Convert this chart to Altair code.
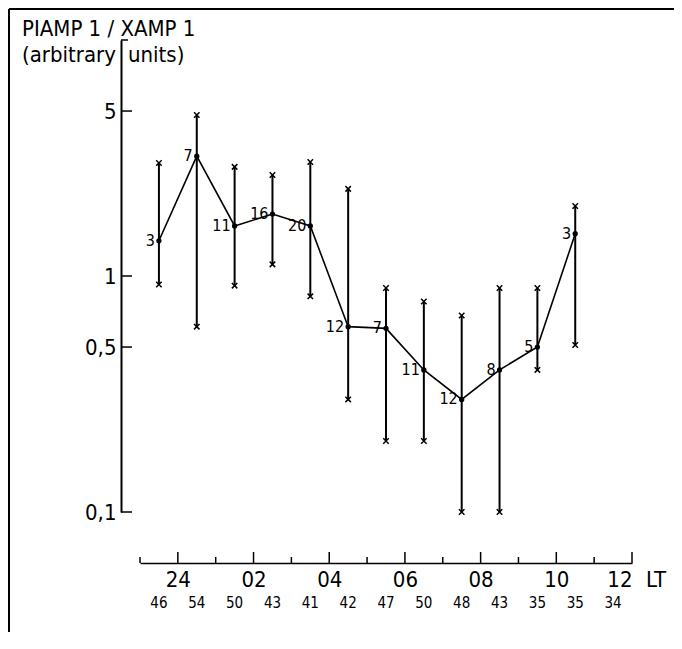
import altair as alt
import pandas as pd

# ---- data ----
hours = [23.5, 24.5, 25.5, 26.5, 27.5, 28.5, 29.5, 30.5, 31.5, 32.5, 33.5, 34.5]
ratio = [1.41, 3.22, 1.63, 1.83, 1.63, 0.61, 0.60, 0.40, 0.30, 0.40, 0.50, 1.51]
ratio_hi = [3.01, 4.81, 2.90, 2.68, 3.04, 2.34, 0.89, 0.78, 0.68, 0.89, 0.89, 1.98]
ratio_lo = [0.92, 0.61, 0.91, 1.12, 0.82, 0.30, 0.20, 0.20, 0.10, 0.10, 0.40, 0.51]
n_events = [3, 7, 11, 16, 20, 12, 7, 11, 12, 8, 5, 3]
count_hours = [23.5, 24.5, 25.5, 26.5, 27.5, 28.5, 29.5, 30.5, 31.5, 32.5, 33.5, 34.5, 35.5]
counts = [46, 54, 50, 43, 41, 42, 47, 50, 48, 43, 35, 35, 34]
x_major = [24, 26, 28, 30, 32, 34, 36]
x_major_labels = ["24", "02", "04", "06", "08", "10", "12"]
x_minor = [23, 25, 27, 29, 31, 33, 35]
y_ticks = [0.1, 0.5, 1, 5]
y_tick_labels = ["0,1", "0,5", "1", "5"]
y_top_tick = [10]

# label placement nudges (pixels) for the n labels
label_dy = [2, 0, 4, -7, 8, 2, 10, 8, 7, -1, -5, 0]

FONT = "DejaVu Sans Condensed, Liberation Sans Narrow, DejaVu Sans"
W, H = 492, 472
PAD = {"left": 132, "top": 32, "right": 42, "bottom": 120}

xscale = alt.Scale(domain=[23, 36], nice=False, zero=False)
yscale = alt.Scale(type="log", domain=[0.1, 10], nice=False)

df = pd.DataFrame({"h": hours, "v": ratio, "lo": ratio_lo, "hi": ratio_hi,
                   "n": [str(k) for k in n_events], "dy": label_dy})
caps = pd.DataFrame({"h": hours + hours, "v": ratio_lo + ratio_hi})
df_counts = pd.DataFrame({"h": count_hours, "c": [str(c) for c in counts]})
df_major = pd.DataFrame({"h": x_major})
df_minor = pd.DataFrame({"h": x_minor})
df_yt = pd.DataFrame({"v": y_ticks})
df_ytop = pd.DataFrame({"v": y_top_tick})
dummy = pd.DataFrame({"a": [0]})


def expr_map(values, labels):
    parts = []
    for v, l in zip(values, labels):
        parts.append(f"abs(datum.value - {v}) < 1e-6 ? '{l}' : ")
    return "".join(parts) + "''"


x_axis = alt.Axis(values=x_major, labelExpr=expr_map(x_major, x_major_labels),
                  ticks=False, domain=True, domainWidth=1.5, domainColor="black",
                  offset=51, labelPadding=6, labelFontSize=22, labelFont=FONT,
                  labelColor="black", grid=False, title=None)
y_axis = alt.Axis(values=y_ticks, labelExpr=expr_map(y_ticks, y_tick_labels),
                  ticks=False, domain=True, domainWidth=2, domainColor="black",
                  offset=19, labelPadding=5, labelFontSize=22, labelFont=FONT,
                  labelColor="black", grid=False, title=None)


def X(field):
    return alt.X(field, scale=xscale, axis=x_axis)


def Y(field):
    return alt.Y(field, scale=yscale, axis=y_axis)


base = alt.Chart(df)

errbars = base.mark_rule(color="black", strokeWidth=2).encode(
    x=X("h:Q"), y=Y("lo:Q"), y2="hi:Q",
)

cap_marks = alt.Chart(caps).mark_point(
    shape="M -1 -1 L 1 1 M -1 1 L 1 -1", filled=False, color="black",
    strokeWidth=1.5, size=30, opacity=1
).encode(x=X("h:Q"), y=Y("v:Q"))

line = base.mark_line(color="black", strokeWidth=1.6).encode(
    x=X("h:Q"), y=Y("v:Q"),
)

points = base.mark_point(filled=True, color="black", size=28, opacity=1).encode(
    x=X("h:Q"), y=Y("v:Q"),
)

nlabels = base.mark_text(align="right", baseline="middle", dx=-4, fontSize=16,
                         font=FONT, color="black").encode(
    x=X("h:Q"), y=Y("v:Q"),
    yOffset=alt.YOffset("dy:Q", scale=None),
    text="n:N",
)

# x-axis ticks pointing upward
major_ticks = alt.Chart(df_major).mark_rule(color="black", strokeWidth=1.5).encode(
    x=X("h:Q"), y=alt.value(H + 51), y2=alt.value(H + 40),
)
minor_ticks = alt.Chart(df_minor).mark_rule(color="black", strokeWidth=1.5).encode(
    x=X("h:Q"), y=alt.value(H + 51), y2=alt.value(H + 45),
)

# y-axis ticks pointing right
y_tick_marks = alt.Chart(df_yt).mark_rule(color="black", strokeWidth=1.5).encode(
    y=Y("v:Q"), x=alt.value(-19), x2=alt.value(-8),
)
y_top_mark = alt.Chart(df_ytop).mark_rule(color="black", strokeWidth=1.5).encode(
    y=Y("v:Q"), x=alt.value(-19), x2=alt.value(-12),
)

count_text = alt.Chart(df_counts).mark_text(
    align="center", baseline="alphabetic", fontSize=15, font=FONT, color="black"
).encode(x=X("h:Q"), y=alt.value(H + 96), text="c:N")

lt_text = alt.Chart(pd.DataFrame({"h": [36], "t": ["LT"]})).mark_text(
    align="left", baseline="alphabetic", fontSize=22, font=FONT, color="black", dx=14
).encode(x=X("h:Q"), y=alt.value(H + 75), text="t:N")

title1 = alt.Chart(dummy).mark_text(
    align="left", baseline="alphabetic", fontSize=22, font=FONT, color="black",
    text="PIAMP 1 / XAMP 1").encode(x=alt.value(-118), y=alt.value(-4))
title2a = alt.Chart(dummy).mark_text(
    align="left", baseline="alphabetic", fontSize=22, font=FONT, color="black",
    text="(arbitrary").encode(x=alt.value(-118), y=alt.value(22))
title2b = alt.Chart(dummy).mark_text(
    align="left", baseline="alphabetic", fontSize=22, font=FONT, color="black",
    text="units)").encode(x=alt.value(-12), y=alt.value(22))

frame_left = alt.Chart(dummy).mark_rule(color="black", strokeWidth=2).encode(
    x=alt.value(-PAD["left"] + 1), y=alt.value(-PAD["top"] + 1),
    y2=alt.value(H + PAD["bottom"]))
frame_top = alt.Chart(dummy).mark_rule(color="black", strokeWidth=2).encode(
    x=alt.value(-PAD["left"] + 1), x2=alt.value(W + PAD["right"]),
    y=alt.value(-PAD["top"] + 1))

chart = alt.layer(
    errbars, cap_marks, line, points, nlabels,
    major_ticks, minor_ticks, y_tick_marks, y_top_mark,
    count_text, lt_text, title1, title2a, title2b, frame_left, frame_top,
).properties(
    width=W, height=H,
    autosize=alt.AutoSizeParams(type="none"),
    padding=PAD,
    background="white",
).configure_view(strokeWidth=0)

chart.save("out.html", embed_options={"renderer": "svg", "actions": False})
